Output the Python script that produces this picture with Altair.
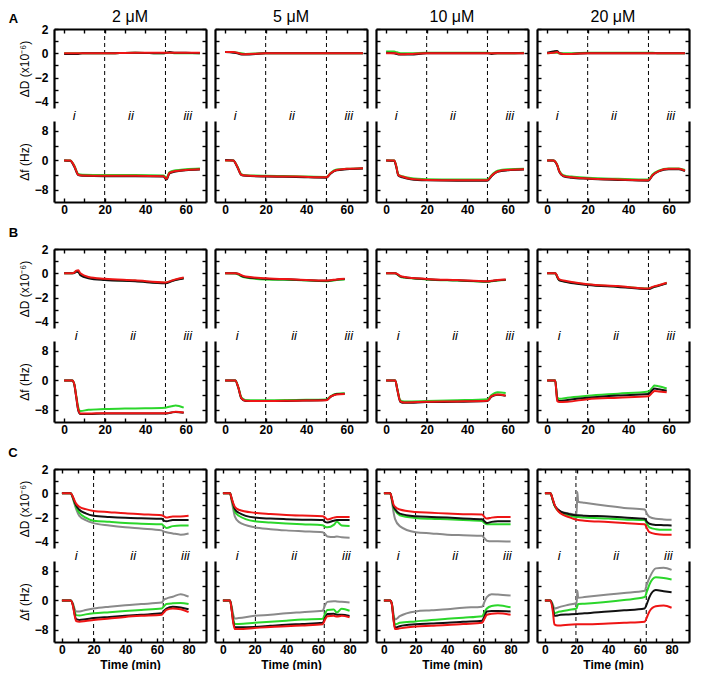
import altair as alt
import pandas as pd

FONT = "Liberation Sans"

CONCS = ["2 μM", "5 μM", "10 μM", "20 μM"]
COLOURS = ["grey", "green", "black", "red"]
PALETTE = ["#8a8a8a", "#2bd62b", "#111111", "#ee1515"]
PHASES = ["i", "ii", "iii"]

D_TICKS = [-4, -3, -2, -1, 0, 1, 2]
F_TICKS = [-8, -4, 0, 4, 8]
X_TICKS_AB = [0, 10, 20, 30, 40, 50, 60]
X_TICKS_C = [0, 10, 20, 30, 40, 50, 60, 70, 80]
X_DOMAIN = {"A": [-5, 70], "B": [-5, 70], "C": [-5, 91]}
PHASE_X = {"A": [5, 33, 61], "B": [6, 34, 61], "C": [9, 45, 78]}
STEPS = {
    "A": [[20, 50], [20, 50], [20, 50], [20, 50]],
    "B": [[20, 50], [20, 50], [20, 50], [20, 50]],
    "C": [[20, 64], [20.5, 64], [20, 63], [19.6, 64]],
}

# ---- row A ----
A1_T = [0, 3, 5, 7, 9, 20, 35, 49, 50.5, 52, 55, 60, 67]
A1_D = {
    "green": [0, 0, 0, 0, 0, 0, 0.05, 0, 0.05, 0.05, 0, 0, 0],
    "black": [-0.05, -0.05, -0.05, -0.05, 0, 0, 0.05, 0, 0.05, 0.1, 0.05, 0.05, 0],
    "red": [0, 0, 0, 0, 0, 0, 0.05, 0.05, 0.05, 0.05, 0.05, 0.05, 0.05],
}
A1_F = {
    "green": [0, 0, -1.4, -3.7, -3.9, -4.0, -4.0, -4.1, -4.7, -3.2, -2.7, -2.4, -2.2],
    "black": [0, -0.1, -1.7, -4.0, -4.2, -4.3, -4.3, -4.4, -5.2, -3.5, -3.0, -2.7, -2.5],
    "red": [0, 0, -1.5, -3.9, -4.1, -4.2, -4.2, -4.3, -5.0, -3.4, -2.9, -2.6, -2.4],
}

A2_T = [0, 4, 6, 8, 10, 20, 35, 50, 52, 55, 60, 68]
A2_D = {
    "green": [0.1, 0.1, 0.05, 0, -0.05, 0, 0, 0, 0, 0, 0, 0],
    "black": [0.1, 0.05, 0, -0.1, -0.1, 0, 0, 0, 0, 0, 0, 0],
    "red": [0.1, 0.1, 0.05, -0.05, -0.08, 0, 0, 0, 0, 0, 0, 0],
}
A2_F = {
    "green": [0, 0, -1.6, -3.7, -4.0, -4.2, -4.3, -4.5, -3.4, -2.5, -2.3, -2.1],
    "black": [0.1, 0, -1.8, -4.0, -4.2, -4.4, -4.5, -4.7, -3.6, -2.7, -2.4, -2.2],
    "red": [0, 0, -1.7, -3.9, -4.1, -4.3, -4.4, -4.6, -3.5, -2.6, -2.3, -2.1],
}

A3_T = [0, 4, 5, 6, 8, 12, 20, 35, 50, 52, 55, 60, 68]
A3_D = {
    "green": [0.15, 0.15, 0.1, 0.05, 0, 0, 0.05, 0.05, 0.05, 0, 0, 0, 0.05],
    "black": [0.05, 0, -0.05, -0.1, -0.1, -0.1, 0, 0, 0, -0.05, 0, 0, 0],
    "red": [0, 0, 0, -0.05, -0.08, -0.05, 0, 0, 0, 0, 0, 0, 0],
}
A3_F = {
    "green": [0, 0, -1.5, -3.8, -4.3, -4.8, -5.1, -5.2, -5.2, -4.0, -2.8, -2.4, -2.3],
    "black": [0, -0.1, -1.8, -4.1, -4.6, -5.1, -5.4, -5.5, -5.5, -4.3, -3.1, -2.7, -2.5],
    "red": [0, 0, -1.6, -4.0, -4.4, -5.0, -5.3, -5.4, -5.4, -4.2, -3.0, -2.6, -2.4],
}

A4_T = [0, 3, 5, 6, 8, 12, 20, 35, 50, 52, 55, 60, 65, 68]
A4_D = {
    "green": [0, 0.05, 0.05, 0, 0, 0, 0.05, 0.05, 0.05, 0.05, 0, 0, 0, 0],
    "black": [0.05, 0.15, 0.2, 0, -0.05, -0.05, 0, 0, 0, 0, 0, 0, 0, 0],
    "red": [0, 0.05, 0.1, 0, -0.05, -0.05, 0, 0, 0, 0, 0, 0, 0, 0],
}
A4_F = {
    "green": [0, 0, -1.2, -2.8, -4.0, -4.4, -4.7, -5.0, -5.2, -3.8, -2.8, -2.2, -2.2, -2.6],
    "black": [0, 0, -1.4, -3.1, -4.3, -4.7, -5.0, -5.3, -5.5, -4.1, -3.0, -2.4, -2.4, -2.9],
    "red": [0, 0, -1.3, -3.0, -4.2, -4.6, -4.9, -5.2, -5.4, -4.0, -2.9, -2.3, -2.3, -2.8],
}

# ---- row B ----
B1_T = [0, 4, 5, 6, 7, 8, 12, 20, 35, 50, 53, 55, 59]
B1_D = {
    "green": [0, 0, 0.05, 0.18, 0.15, -0.1, -0.35, -0.5, -0.62, -0.78, -0.62, -0.52, -0.38],
    "black": [0, 0, 0.03, 0.12, 0.1, -0.15, -0.4, -0.55, -0.65, -0.82, -0.66, -0.55, -0.42],
    "red": [0, 0, 0.05, 0.22, 0.25, 0, -0.3, -0.45, -0.58, -0.75, -0.6, -0.5, -0.35],
}
B1_F = {
    "green": [0, 0, -1.0, -4.2, -7.4, -8.3, -8.0, -7.8, -7.6, -7.4, -7.0, -6.8, -7.4],
    "black": [0, 0, -1.1, -4.7, -8.2, -9.1, -9.1, -9.0, -9.0, -9.0, -8.7, -8.6, -8.8],
    "red": [0, 0, -1.0, -4.5, -8.0, -9.0, -9.0, -8.9, -8.9, -8.9, -8.7, -8.5, -8.7],
}

B2_T = [0, 5, 6.5, 8, 10, 20, 35, 50, 52, 55, 59]
B2_D = {
    "green": [0, -0.02, -0.1, -0.25, -0.35, -0.5, -0.55, -0.65, -0.62, -0.55, -0.5],
    "black": [0, 0, -0.05, -0.2, -0.3, -0.45, -0.52, -0.62, -0.6, -0.52, -0.47],
    "red": [0, 0, -0.03, -0.15, -0.27, -0.4, -0.5, -0.6, -0.57, -0.5, -0.45],
}
B2_F = {
    "green": [0, 0, -1.8, -4.6, -5.3, -5.4, -5.3, -5.2, -4.3, -3.6, -3.5],
    "black": [0, 0, -2.0, -4.9, -5.6, -5.6, -5.5, -5.3, -4.5, -3.7, -3.6],
    "red": [0, 0, -1.9, -4.8, -5.5, -5.6, -5.5, -5.4, -4.4, -3.8, -3.7],
}

B3_T = [0, 4.5, 5.5, 7, 9, 20, 35, 50, 52, 55, 59]
B3_D = {
    "green": [0, 0, -0.1, -0.28, -0.35, -0.5, -0.6, -0.7, -0.66, -0.6, -0.55],
    "black": [0, 0, -0.08, -0.25, -0.33, -0.48, -0.58, -0.68, -0.64, -0.58, -0.53],
    "red": [0, 0, -0.05, -0.22, -0.3, -0.46, -0.56, -0.66, -0.62, -0.56, -0.51],
}
B3_F = {
    "green": [0, 0, -2.2, -5.4, -5.7, -5.6, -5.4, -5.1, -4.0, -3.2, -3.4],
    "black": [0, 0, -2.5, -5.8, -6.1, -5.9, -5.8, -5.6, -4.4, -3.9, -4.2],
    "red": [0, 0, -2.4, -5.7, -6.0, -5.8, -5.7, -5.5, -4.3, -3.8, -4.1],
}

B4_T = [0, 4, 4.5, 5, 6, 10, 20, 35, 50, 52, 53, 55, 59]
B4_D = {
    "green": [0, 0, -0.1, -0.3, -0.55, -0.7, -0.93, -1.08, -1.25, -1.15, -1.1, -1.0, -0.8],
    "black": [0, 0, -0.1, -0.3, -0.58, -0.73, -0.96, -1.12, -1.3, -1.18, -1.12, -1.03, -0.83],
    "red": [0, 0, -0.08, -0.25, -0.5, -0.65, -0.9, -1.05, -1.25, -1.12, -1.07, -0.98, -0.78],
}
B4_F = {
    "green": [0, 0, -2.3, -4.6, -5.0, -4.7, -4.2, -3.6, -3.0, -1.9, -1.4, -1.6, -2.2],
    "black": [0, 0, -2.6, -5.2, -5.6, -5.3, -4.7, -4.1, -3.7, -2.6, -2.2, -2.4, -2.8],
    "red": [0, 0, -2.8, -5.6, -5.9, -5.8, -5.1, -4.7, -4.3, -3.3, -2.9, -3.0, -3.2],
}

# ---- row C ----
C1_T = [0, 5.5, 7, 8, 9, 11, 15, 20, 30, 40, 50, 63, 64.5, 66, 70, 75, 80]
C1_D = {
    "grey": [0, 0, -0.45, -0.9, -1.3, -1.85, -2.2, -2.45, -2.65, -2.8, -2.9, -3.05, -3.15, -3.2, -3.3, -3.4, -3.3],
    "green": [0, 0, -0.4, -0.8, -1.15, -1.6, -2.0, -2.25, -2.35, -2.45, -2.5, -2.55, -2.7, -2.85, -2.7, -2.65, -2.65],
    "black": [0, 0, -0.35, -0.7, -1.0, -1.35, -1.65, -1.85, -1.95, -2.02, -2.06, -2.1, -2.25, -2.3, -2.2, -2.2, -2.2],
    "red": [0, 0, -0.3, -0.6, -0.85, -1.1, -1.3, -1.45, -1.55, -1.65, -1.72, -1.8, -1.9, -2.0, -1.9, -1.9, -1.85],
}
C1_F = {
    "grey": [0, 0, -0.9, -2.3, -3.0, -3.0, -2.6, -2.2, -1.7, -1.3, -1.0, -0.6, 0.2, 0.5, 1.0, 1.7, 1.0],
    "green": [0, 0, -1.2, -3.0, -4.0, -4.1, -3.8, -3.5, -3.2, -2.9, -2.6, -2.2, -1.6, -1.0, -0.8, -0.7, -1.0],
    "black": [0, 0, -1.4, -3.7, -5.1, -5.3, -5.1, -4.8, -4.5, -4.2, -3.9, -3.5, -2.8, -2.2, -1.7, -1.9, -2.4],
    "red": [0, 0, -1.5, -4.0, -5.6, -5.8, -5.6, -5.3, -4.9, -4.5, -4.2, -3.9, -3.2, -2.6, -2.2, -2.4, -3.2],
}

C2_T = [0, 4.5, 5.5, 6.5, 7.5, 10, 20, 30, 40, 50, 63, 64.5, 66, 70, 72, 75, 80]
C2_D = {
    "grey": [0, 0, -0.6, -1.3, -1.9, -2.35, -2.8, -2.95, -3.05, -3.12, -3.2, -3.35, -3.55, -3.6, -3.55, -3.62, -3.65],
    "green": [0, 0, -0.5, -1.0, -1.5, -1.85, -2.3, -2.4, -2.48, -2.55, -2.62, -2.75, -2.8, -2.6, -2.35, -2.65, -2.7],
    "black": [0, 0, -0.45, -0.9, -1.3, -1.6, -2.0, -2.08, -2.13, -2.17, -2.2, -2.35, -2.4, -2.25, -2.2, -2.2, -2.2],
    "red": [0, 0, -0.4, -0.8, -1.1, -1.35, -1.6, -1.7, -1.78, -1.83, -1.88, -2.0, -2.15, -2.0, -1.95, -1.95, -1.95],
}
C2_F = {
    "grey": [0, 0, -1.6, -3.8, -4.9, -4.8, -4.2, -3.9, -3.5, -3.2, -2.8, -1.3, -0.4, -0.2, -0.3, -0.4, -0.6],
    "green": [0, 0, -2.1, -5.0, -6.4, -6.4, -6.1, -5.8, -5.5, -5.2, -5.0, -3.6, -2.6, -2.5, -3.3, -2.3, -2.8],
    "black": [0, 0, -2.4, -5.7, -7.3, -7.3, -7.2, -6.9, -6.6, -6.4, -6.1, -4.8, -3.7, -3.6, -3.9, -3.9, -4.2],
    "red": [0, 0, -2.5, -6.0, -7.8, -7.8, -7.5, -7.2, -7.0, -6.8, -6.5, -5.2, -4.3, -4.2, -4.4, -4.2, -4.6],
}

C3_T = [0, 4, 5, 6, 7, 10, 20, 30, 40, 50, 62, 63.5, 65, 68, 72, 80]
C3_D = {
    "grey": [0, 0, -0.6, -1.5, -2.1, -2.7, -3.2, -3.3, -3.4, -3.45, -3.5, -3.7, -3.9, -3.95, -3.95, -3.97],
    "green": [0, 0, -0.5, -1.15, -1.4, -1.8, -2.03, -2.1, -2.14, -2.2, -2.28, -2.45, -2.55, -2.55, -2.55, -2.55],
    "black": [0, 0, -0.45, -1.05, -1.3, -1.67, -1.89, -1.95, -2.0, -2.07, -2.14, -2.3, -2.44, -2.35, -2.3, -2.3],
    "red": [0, 0, -0.4, -0.9, -1.1, -1.33, -1.53, -1.6, -1.67, -1.72, -1.75, -1.95, -2.08, -2.0, -1.95, -1.94],
}
C3_F = {
    "grey": [0, 0, -0.8, -3.5, -5.2, -4.3, -3.0, -2.7, -2.4, -2.0, -1.7, -0.4, 0.9, 1.7, 1.6, 1.3],
    "green": [0, 0, -0.9, -4.2, -6.5, -6.1, -5.7, -5.3, -5.0, -4.7, -4.3, -3.2, -2.2, -1.5, -1.3, -1.9],
    "black": [0, 0, -1.0, -4.8, -7.4, -7.0, -6.5, -6.3, -6.1, -5.8, -5.5, -4.3, -3.0, -2.9, -2.9, -3.0],
    "red": [0, 0, -1.0, -5.0, -7.8, -7.6, -7.1, -6.9, -6.7, -6.4, -6.1, -5.0, -3.9, -3.6, -3.5, -3.9],
}

C4_T = [0, 3.5, 5, 6, 8, 10, 15, 20, 20.5, 21, 25, 40, 50, 63, 64.5, 66, 70, 75, 80]
C4_D = {
    "grey": [0, 0, -0.55, -0.95, -1.3, -1.5, -1.65, -1.75, 0.1, -0.7, -0.78, -1.05, -1.2, -1.33, -1.7, -1.94, -2.1, -2.15, -2.17],
    "green": [0, 0, -0.6, -1.0, -1.4, -1.6, -1.8, -1.94, -1.94, -1.95, -2.0, -2.08, -2.15, -2.2, -2.55, -2.8, -2.95, -3.0, -3.0],
    "black": [0, 0, -0.55, -0.95, -1.3, -1.5, -1.7, -1.8, -1.8, -1.8, -1.84, -1.9, -2.0, -2.1, -2.35, -2.5, -2.6, -2.62, -2.64],
    "red": [0, 0, -0.5, -0.9, -1.4, -1.67, -1.95, -2.17, -2.18, -2.2, -2.25, -2.36, -2.45, -2.55, -2.9, -3.2, -3.35, -3.4, -3.4],
}
C4_F = {
    "grey": [0, 0, -1.1, -2.2, -2.0, -1.7, -1.2, -0.7, 2.6, 0.7, 0.9, 1.6, 2.0, 2.6, 4.5, 6.1, 8.7, 8.9, 8.3],
    "green": [0, 0, -1.7, -3.5, -3.2, -3.0, -2.6, -2.2, -1.5, -1.0, -0.9, -0.4, 0.1, 0.9, 2.5, 4.3, 6.3, 6.1, 5.7],
    "black": [0, 0, -2.0, -4.2, -4.1, -3.9, -3.8, -3.7, -3.7, -3.6, -3.5, -3.0, -2.7, -2.2, -0.8, 0.9, 2.8, 2.5, 2.2],
    "red": [0, 0, -3.0, -6.5, -6.8, -6.8, -6.6, -6.5, -6.5, -6.5, -6.5, -6.3, -6.1, -5.8, -4.5, -3.0, -1.6, -1.4, -2.0],
}

PANELS = {
    "A": [(A1_T, A1_D, A1_F), (A2_T, A2_D, A2_F), (A3_T, A3_D, A3_F), (A4_T, A4_D, A4_F)],
    "B": [(B1_T, B1_D, B1_F), (B2_T, B2_D, B2_F), (B3_T, B3_D, B3_F), (B4_T, B4_D, B4_F)],
    "C": [(C1_T, C1_D, C1_F), (C2_T, C2_D, C2_F), (C3_T, C3_D, C3_F), (C4_T, C4_D, C4_F)],
}

# layout: dissipation plot 79 px high, 13 px gap, frequency plot 81 px high
W, H_TOP, H_BOT, GAP = 152, 79, 81, 13
D_DOMAIN = [-4.5, 2]
F_DOMAIN = [-11.3, 10.7]
# positions, in the upper plot's data units, of the gap-crossing rules, phase
# labels, column headers and panel letters
GAP_BOTTOM_D = -5.57
PHASE_Y_D = -5.12
HEADER_Y_D = 3.0
LETTER_POS = {"A": (-25, 2.82), "B": (-25, 3.32), "C": (-31, 3.32)}


def long_df(t, vals):
    rows = []
    for s in COLOURS:
        if s in vals:
            for ti, v in zip(t, vals[s]):
                rows.append({"t": ti, "v": v, "s": s})
    return pd.DataFrame(rows)


def ax(orient, values, domain=False, ticks=False, labels=False, offset=0,
       label_expr="", title=None):
    vertical = orient in ("left", "right")
    kw = dict(
        orient=orient, values=values, domain=domain, ticks=ticks, labels=labels,
        title=title, grid=False,
        domainColor="black", domainWidth=2.2,
        tickColor="black", tickWidth=1.4, tickSize=4,
        labelFont=FONT, labelFontSize=12, labelFontWeight="bold", labelColor="black",
        labelPadding=6 if vertical else 2,
        titleFont=FONT, titleFontSize=12, titleColor="black",
        titleFontWeight="normal" if vertical else "bold",
        titlePadding=3 if vertical else 4,
    )
    if offset:
        kw["offset"] = offset
    if label_expr:
        kw["labelExpr"] = label_expr
    return alt.Axis(**kw)


def framed(df, xs, ys, xorient, yvalues, xticks, first, y_label_expr, y_title,
           x_labels=False, x_title=None):
    """Line layer plus invisible layers that carry the frame axes (inward ticks)."""
    colour = alt.Color("s:N", scale=alt.Scale(domain=COLOURS, range=PALETTE), legend=None)
    base = alt.Chart(df)
    lines = base.mark_line(strokeWidth=2, interpolate="monotone").encode(
        x=alt.X("t:Q", scale=xs, axis=ax(
            xorient, xticks, domain=True, labels=x_labels,
            label_expr="datum.value % 20 == 0 ? datum.label : ''", title=x_title)),
        y=alt.Y("v:Q", scale=ys, axis=ax(
            "left", yvalues, domain=True, labels=first,
            label_expr=y_label_expr, title=y_title)),
        color=colour,
    )
    inner_ticks = base.mark_point(opacity=0).encode(
        x=alt.X("t:Q", scale=xs, axis=ax(xorient, xticks, ticks=True, offset=-4)),
        y=alt.Y("v:Q", scale=ys, axis=ax("left", yvalues, ticks=True, offset=-4)),
    )
    right_edge = base.mark_point(opacity=0).encode(
        x=alt.X("t:Q", scale=xs, axis=None),
        y=alt.Y("v:Q", scale=ys, axis=ax("right", yvalues, domain=True)),
    )
    right_ticks = base.mark_point(opacity=0).encode(
        x=alt.X("t:Q", scale=xs, axis=None),
        y=alt.Y("v:Q", scale=ys, axis=ax("right", yvalues, ticks=True, offset=-4)),
    )
    return [lines, inner_ticks, right_edge, right_ticks]


def label_layer(text, x, y, xs, ys, **style):
    return alt.Chart(pd.DataFrame({"label": [text]})).mark_text(
        font=FONT, baseline="middle", color="black", **style
    ).encode(
        x=alt.X(datum=x, scale=xs, axis=None),
        y=alt.Y(datum=y, scale=ys, axis=None),
        text="label:N",
    )


def panel(row, col):
    t, d_vals, f_vals = PANELS[row][col]
    xticks = X_TICKS_C if row == "C" else X_TICKS_AB
    first = col == 0
    xdom = X_DOMAIN[row]
    xs = alt.Scale(domain=xdom, nice=False, zero=False)
    ys_d = alt.Scale(domain=D_DOMAIN, nice=False, zero=False)
    ys_f = alt.Scale(domain=F_DOMAIN, nice=False, zero=False)
    steps = pd.DataFrame({"t": STEPS[row][col]})

    # upper plot: dissipation
    rules_top = alt.Chart(steps).mark_rule(color="black", strokeWidth=1, strokeDash=[4, 3]).encode(
        x=alt.X("t:Q", scale=xs, axis=None),
        y=alt.Y(datum=D_DOMAIN[1], scale=ys_d, axis=None),
        y2=alt.Y2(datum=GAP_BOTTOM_D),
    )
    phases = alt.Chart(pd.DataFrame({"t": PHASE_X[row], "label": PHASES})).mark_text(
        font=FONT, fontSize=13, fontStyle="italic", baseline="middle", color="black"
    ).encode(
        x=alt.X("t:Q", scale=xs, axis=None),
        y=alt.Y(datum=PHASE_Y_D, scale=ys_d, axis=None),
        text="label:N",
    )
    top_layers = [rules_top] + framed(
        long_df(t, d_vals), xs, ys_d, "top", D_TICKS, xticks, first,
        "datum.value % 2 == 0 ? datum.label : ''", "ΔD (x10⁻⁶)" if first else None,
    ) + [phases]
    if row == "A":
        top_layers.append(label_layer(
            CONCS[col], (xdom[0] + xdom[1]) / 2, HEADER_Y_D, xs, ys_d, fontSize=16
        ))
    if first:
        lx, ly = LETTER_POS[row]
        top_layers.append(label_layer(row, lx, ly, xs, ys_d, fontSize=13, fontWeight="bold"))
    top = alt.layer(*top_layers).resolve_axis(x="independent", y="independent").properties(
        width=W, height=H_TOP
    )

    # lower plot: frequency
    rules_bot = alt.Chart(steps).mark_rule(color="black", strokeWidth=1, strokeDash=[4, 3]).encode(
        x=alt.X("t:Q", scale=xs, axis=None)
    )
    bot_layers = [rules_bot] + framed(
        long_df(t, f_vals), xs, ys_f, "bottom", F_TICKS, xticks, first,
        "datum.value % 8 == 0 ? datum.label : ''", "Δf (Hz)" if first else None,
        x_labels=True, x_title="Time (min)" if row == "C" else None,
    )
    bottom = alt.layer(*bot_layers).resolve_axis(x="independent", y="independent").properties(
        width=W, height=H_BOT
    )
    return alt.vconcat(top, bottom, spacing=GAP, bounds="flush")


rows = [alt.hconcat(*[panel(r, c) for c in range(4)], spacing=7)
        for r in ["A", "B", "C"]]

chart = alt.vconcat(*rows, spacing=11).properties(
    padding={"left": 0, "top": 0, "right": 2, "bottom": 0}
).configure_view(stroke=None)

chart.save("out.html", embed_options={"renderer": "svg", "actions": False})
